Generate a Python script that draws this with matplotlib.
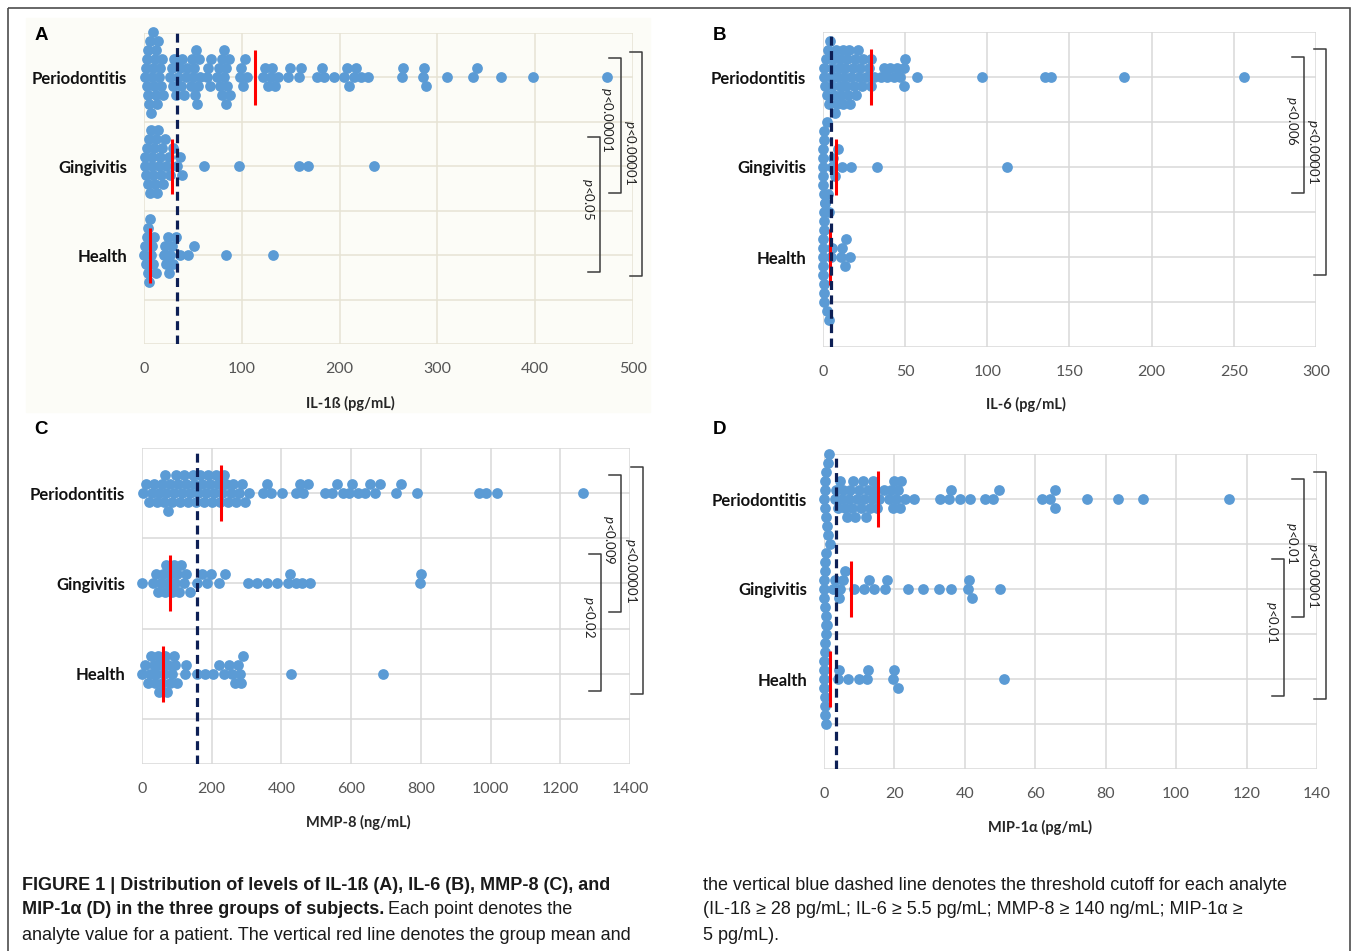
import numpy as np
import matplotlib
matplotlib.use("Agg")
import matplotlib.pyplot as plt
from matplotlib.patches import Rectangle

plt.rcParams["mathtext.fontset"] = "custom"
plt.rcParams["mathtext.it"] = "Lato:italic"
plt.rcParams["mathtext.rm"] = "Lato"

W, H = 1358, 951
BLUE = "#5b9bd5"

groups = ["Health", "Gingivitis", "Periodontitis"]

# ---- IL-1b (pg/mL) ----
il1b_perio = [0.8, 1.9, 2.7, 3.5, 4.4, 5.6, 6.2, 7.1, 8.3, 9.0, 10.2, 11.4, 12.1, 13.3, 14.0,
              15.2, 16.4, 17.1, 18.5, 19.3, 3.9, 8.8, 12.7,
              27, 28.5, 31, 32.6, 35, 36.8, 39, 40.5, 43, 30, 37.5, 44,
              48, 49.2, 50.1, 51.3, 52, 53.5, 54.2, 55, 56.4, 57.3,
              64, 65.8, 67, 68.5,
              75, 76.2, 78, 79.4, 80, 81.3, 82, 83.5, 84, 85.2, 86.5, 88,
              98, 99.5, 101, 103, 105,
              122, 124, 127, 130, 131, 134, 137,
              147, 149, 158, 161, 177, 182, 184, 194,
              204, 208, 210, 215, 217, 222, 229,
              264, 265, 285, 286, 288, 310, 336, 341, 365, 398, 473]
il1b_ging = [0.6, 1.5, 2.4, 3.2, 4.1, 5.3, 6.0, 6.8, 7.7, 8.5, 9.6, 10.3, 11.2, 12.5, 13.4,
             14.1, 15.3, 16.6, 17.4, 18.2, 19.5, 21, 23, 25.5, 27, 29.5, 34, 36.5, 38.5,
             61, 97, 158, 168, 235]
il1b_health = [0.4, 1.1, 1.9, 2.8, 3.6, 4.5, 5.4, 6.3, 7.2, 8.1, 9.5, 10.6, 12.0,
               20, 21.5, 23, 24.5, 25.5, 27, 28.5, 30, 33, 37, 45, 51, 84, 132]
il1b_means = [6.5, 28.5, 113]
il1b_cutoff = 34

# ---- IL-6 (pg/mL) ----
il6_perio = [0.4, 0.9, 1.3, 2.1, 2.6, 3.2, 3.5, 4.1, 4.8, 5.2, 5.6, 6.3, 6.8, 7.1, 7.7, 8.4,
             8.8, 9.5, 10.1, 10.6, 11.2, 11.9, 12.4, 12.8, 13.6, 14.1, 14.9, 15.3, 16.0,
             16.7, 17.2, 18.1, 18.6, 19.4, 20.3, 21.0, 21.8, 22.6, 23.5, 24.2,
             26, 28, 29, 29.5, 31, 35, 37, 39, 41, 43, 45, 47, 49, 49.5, 50, 57,
             97, 135, 139, 183, 256]
il6_ging = [0.0, 0.1, 0.2, 0.3, 0.3, 0.5, 0.6, 0.8, 1.0, 2.6, 3.4, 5.2, 6.0, 7.5, 9.0,
            11.5, 17.0, 33.0, 112.0]
il6_health = [0.0, 0.1, 0.1, 0.2, 0.3, 0.4, 0.4, 0.5, 0.6, 0.8, 0.9, 1.1, 2.4, 3.0, 3.9,
              4.6, 5.5, 11.0, 11.8, 13.2, 14.0, 16.5]
il6_means = [4.0, 7.9, 29]
il6_cutoff = 4.9

# ---- MMP-8 (ng/mL) ----
mmp8_perio = [3, 12, 20, 28, 35, 42, 50, 56, 62, 66, 70, 74, 80, 86, 92, 98, 104, 110, 116,
              121, 127, 133, 139, 145, 150, 156, 161, 166, 172, 178, 183, 188, 194, 200,
              206, 212, 218, 224, 230, 236, 242, 248, 255, 262, 270, 278, 287, 296, 308,
              346, 360, 371, 402, 441, 452, 462, 475, 524, 545, 560, 576, 595, 602, 620,
              640, 655, 668, 682, 728, 744, 788, 968, 987, 1018, 1264]
mmp8_ging = [0, 32, 40, 47, 55, 60, 66, 70, 76, 81, 85, 91, 95, 101, 106, 112, 120, 127, 137,
             157, 171, 186, 199, 220, 238, 304, 330, 358, 386, 418, 424, 441, 460, 481,
             797, 801]
mmp8_health = [0, 9, 16, 22, 27, 33, 38, 41, 46, 50, 53, 58, 62, 66, 71, 75, 80, 86, 91, 95,
               101, 123, 126, 157, 181, 204, 222, 236, 249, 258, 266, 274, 281, 285, 291,
               427, 690]
mmp8_means = [60, 80, 227]
mmp8_cutoff = 158

# ---- MIP-1a (pg/mL) ----
mip_perio = [0.1, 0.2, 0.3, 0.4, 0.5, 0.6, 0.8, 1.0, 1.2, 1.4, 1.6,
             3.0, 3.5, 4.0, 4.6, 5.1, 5.5, 6.0, 6.4, 7.0, 7.5, 8.0, 8.3, 8.8, 9.4, 10.0,
             10.5, 11.0, 11.3, 11.8, 12.4, 13.0, 13.6, 14.0, 14.5, 15.0, 15.6,
             17.0, 18.5, 19.0, 19.5, 20.0, 20.5, 21.0, 21.5, 22.0, 23.0, 25.5,
             33.0, 35.6, 36.0, 38.6, 41.5, 45.8, 48.0, 49.7, 62.0, 64.3, 65.5, 65.7,
             74.7, 83.5, 90.5, 115.0]
mip_ging = [0.0, 0.1, 0.1, 0.2, 0.3, 0.4, 0.5, 0.6, 0.8, 2.5, 3.2, 4.3, 4.5, 5.5, 6.0, 8.5,
            11.4, 12.8, 14.2, 17.3, 18.0, 23.8, 28.0, 32.7, 36.0, 41.0, 41.2, 42.0, 50.0]
mip_health = [0.0, 0.0, 0.1, 0.1, 0.2, 0.2, 0.3, 0.3, 0.4, 0.5, 0.6, 0.7, 4.0, 4.2, 6.8,
              9.9, 12.2, 12.4, 19.6, 19.8, 21.0, 51.0]
mip_means = [1.6, 7.7, 15.3]
mip_cutoff = 3.5


def swarm_offsets(xpix, step, width):
    # simple row beeswarm in pixel space: 0, +1, -1, +2, -2 ...
    rows = {}
    offs = np.zeros(len(xpix))
    for i in np.argsort(xpix, kind="stable"):
        x = xpix[i]
        n = 0
        while True:
            k = ((n + 1) // 2) * (1 if n % 2 else -1)
            if all(abs(x - xx) >= width for xx in rows.get(k, [])):
                break
            n += 1
        rows.setdefault(k, []).append(x)
        offs[i] = k * step
    return offs


fig = plt.figure(figsize=(W / 100, H / 100), dpi=100)
fig.patch.set_facecolor("white")

ov = fig.add_axes([0, 0, 1, 1], zorder=5)
ov.set_xlim(0, W)
ov.set_ylim(H, 0)
ov.axis("off")
ov.patch.set_alpha(0)

# panel A has a slightly warm background
fig.patches.append(Rectangle((26 / W, 1 - 412 / H), 624 / W, 394 / H,
                             transform=fig.transFigure, color="#fcfcf7", zorder=-2))


def draw_panel(box, series, means, cutoff, xmax, xstep, grid_color, face):
    x0, y0, x1, y1 = box
    ax = fig.add_axes([x0 / W, 1 - y1 / H, (x1 - x0) / W, (y1 - y0) / H], zorder=1)
    ax.set_facecolor(face)
    ax.set_xlim(0, xmax)
    ax.set_ylim(0, 3.5)
    ppx = (x1 - x0) / xmax
    ppy = (y1 - y0) / 3.5
    for yi, vals in enumerate(series, start=1):
        vals = np.asarray(vals, dtype=float)
        offs = swarm_offsets(vals * ppx, step=9.0, width=6.5)
        ax.scatter(vals, yi + offs / ppy, s=60, color=BLUE, linewidths=0,
                   zorder=3, clip_on=False)
        ax.plot([means[yi - 1]] * 2, [yi - 0.31, yi + 0.31], color="#ff0000",
                lw=2.2, zorder=4, solid_capstyle="butt")
    ax.axvline(cutoff, color="#0d1f55", lw=2.3, dashes=(2.8, 1.7), zorder=5)

    ax.set_xticks(np.arange(0, xmax + 1, xstep))
    ax.set_yticks([1, 2, 3])
    ax.set_yticks([0, 0.5, 1.5, 2.5, 3.5], minor=True)
    ax.set_yticklabels(groups, fontsize=12, fontweight="bold", family="Lato",
                       color="#111111")
    for lab in ax.get_xticklabels():
        lab.set_fontsize(11.5)
        lab.set_family("Lato")
        lab.set_color("#555555")
    ax.tick_params(axis="both", which="both", length=0)
    ax.tick_params(axis="x", pad=13)
    ax.tick_params(axis="y", pad=12)
    ax.grid(True, axis="x", color=grid_color, lw=1.1)
    ax.grid(True, axis="y", which="both", color=grid_color, lw=1.1)
    ax.set_axisbelow(True)
    for s in ax.spines.values():
        s.set_visible(False)
    return ax


draw_panel((144, 33, 633, 344), [il1b_health, il1b_ging, il1b_perio], il1b_means,
           il1b_cutoff, 500, 100, "#e6e3d4", "#fcfcf7")
draw_panel((823, 32, 1316, 347), [il6_health, il6_ging, il6_perio], il6_means,
           il6_cutoff, 300, 50, "#d9d9d9", "white")
draw_panel((142, 448, 630, 764), [mmp8_health, mmp8_ging, mmp8_perio], mmp8_means,
           mmp8_cutoff, 1400, 200, "#d9d9d9", "white")
draw_panel((824, 454, 1317, 769), [mip_health, mip_ging, mip_perio], mip_means,
           mip_cutoff, 140, 20, "#d9d9d9", "white")

# axis titles
for x, y, t in [(350, 403, "IL-1ß (pg/mL)"), (1026, 404, "IL-6 (pg/mL)"),
                (358, 822, "MMP-8 (ng/mL)"), (1040, 827, "MIP-1α (pg/mL)")]:
    ov.text(x, y, t, ha="center", va="center", fontsize=10.5, fontweight="bold",
            family="Lato", color="#262626")

# panel letters
for x, y, t in [(41, 35, "A"), (720, 35, "B"), (41, 430, "C"), (720, 430, "D")]:
    ov.text(x, y, t, ha="center", va="center", fontsize=13.5, fontweight="bold",
            family="Liberation Sans", color="black")


def bracket(x, ya, yb, label, tx, ty):
    ov.plot([x - 12, x, x, x - 12], [ya, ya, yb, yb], color="#3c3c3c", lw=1.1)
    ov.text(tx, ty, label, rotation=270, ha="center", va="center", fontsize=9.5,
            family="Lato", color="#222222")


bracket(621, 58, 193, "$p$<0.00001", 607, 120)
bracket(642, 52, 276, "$p$<0.00001", 630, 153)
bracket(600, 137, 272, "$p$<0.05", 588, 199)

bracket(1304, 57, 193, "$p$<0.006", 1292, 121)
bracket(1326, 49, 275, "$p$<0.00001", 1313, 152)

bracket(621, 475, 612, "$p$<0.009", 609, 540)
bracket(643, 467, 694, "$p$<0.00001", 631, 571)
bracket(601, 554, 691, "$p$<0.02", 589, 617)

bracket(1304, 479, 617, "$p$<0.01", 1292, 543)
bracket(1326, 472, 699, "$p$<0.00001", 1313, 576)
bracket(1284, 559, 696, "$p$<0.01", 1272, 622)

# outer frame
ov.add_patch(Rectangle((8, 8), 1342, 980, fill=False, ec="#4d4d4d", lw=1.2,
                       clip_on=False))

# caption
cap_font = "Liberation Sans"
cs = 13
ov.text(22, 885, "FIGURE 1 | Distribution of levels of IL-1ß (A), IL-6 (B), MMP-8 (C), and",
        fontsize=cs, fontweight="bold", family=cap_font, va="center", color="#1a1a1a")
t2 = ov.text(22, 910, "MIP-1α (D) in the three groups of subjects.", fontsize=cs,
             fontweight="bold", family=cap_font, va="center", color="#1a1a1a")
fig.canvas.draw()
bb = t2.get_window_extent()
ov.text(bb.x1 + 4, 910, "Each point denotes the", fontsize=cs, family=cap_font,
        va="center", color="#1a1a1a")
ov.text(22, 935, "analyte value for a patient. The vertical red line denotes the group mean and",
        fontsize=cs, family=cap_font, va="center", color="#1a1a1a")
ov.text(703, 885, "the vertical blue dashed line denotes the threshold cutoff for each analyte",
        fontsize=cs, family=cap_font, va="center", color="#1a1a1a")
ov.text(703, 910, "(IL-1ß ≥ 28 pg/mL; IL-6 ≥ 5.5 pg/mL; MMP-8 ≥ 140 ng/mL; MIP-1α ≥",
        fontsize=cs, family=cap_font, va="center", color="#1a1a1a")
ov.text(703, 935, "5 pg/mL).", fontsize=cs, family=cap_font, va="center", color="#1a1a1a")

fig.savefig("out.png", dpi=100)
